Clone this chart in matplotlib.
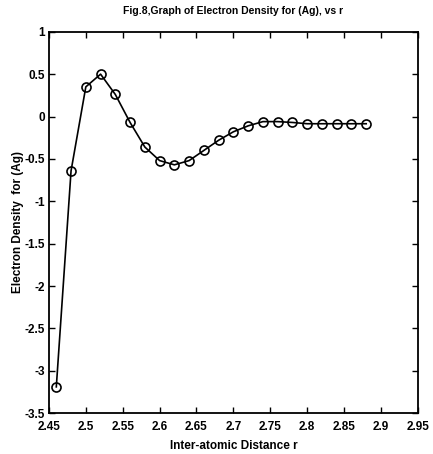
import numpy as np
import matplotlib.pyplot as plt

# electron density for Ag against inter-atomic distance
r = [2.46, 2.48, 2.50, 2.52, 2.54, 2.56, 2.58, 2.60, 2.62, 2.64, 2.66,
     2.68, 2.70, 2.72, 2.74, 2.76, 2.78, 2.80, 2.82, 2.84, 2.86, 2.88]
density = [-3.19, -0.64, 0.35, 0.50, 0.26, -0.07, -0.36, -0.52, -0.57, -0.52, -0.40,
           -0.28, -0.18, -0.11, -0.06, -0.06, -0.07, -0.085, -0.085, -0.085, -0.085, -0.085]

xticks = [2.45, 2.5, 2.55, 2.6, 2.65, 2.7, 2.75, 2.8, 2.85, 2.9, 2.95]
xticklabels = ['2.45', '2.5', '2.55', '2.6', '2.65', '2.7', '2.75', '2.8', '2.85', '2.9', '2.95']
yticks = [-3.5, -3, -2.5, -2, -1.5, -1, -0.5, 0, 0.5, 1]
yticklabels = ['-3.5', '-3', '-2.5', '-2', '-1.5', '-1', '-0.5', '0', '0.5', '1']

plt.rcParams['font.family'] = ['Liberation Sans Narrow', 'Liberation Sans', 'DejaVu Sans']
plt.rcParams['font.weight'] = 'bold'

fig = plt.figure(figsize=(4.33, 4.54), dpi=100)
ax = fig.add_axes([0.113, 0.09, 0.852, 0.84])

ax.plot(r, density, color='black', linewidth=1.2, marker='o', markersize=6.5,
        markerfacecolor='none', markeredgecolor='black', markeredgewidth=1.2)

ax.set_xlim(2.45, 2.95)
ax.set_ylim(-3.5, 1)
ax.set_xticks(xticks)
ax.set_xticklabels(xticklabels)
ax.set_yticks(yticks)
ax.set_yticklabels(yticklabels)
ax.tick_params(direction='in', top=True, right=True, length=4, width=1,
               labelsize=8.5)
ax.tick_params(axis='x', pad=6)
ax.tick_params(axis='y', pad=3)
for s in ax.spines.values():
    s.set_linewidth(1.3)

ax.set_xlabel('Inter-atomic Distance r', fontsize=8.5, fontweight='bold', labelpad=5)
ax.set_ylabel('Electron Density  for (Ag)', fontsize=8.5, fontweight='bold', labelpad=0)
ax.set_title('Fig.8,Graph of Electron Density for (Ag), vs r', fontsize=7.5,
             fontweight='bold', pad=13)

fig.savefig('out.png', dpi=100)
